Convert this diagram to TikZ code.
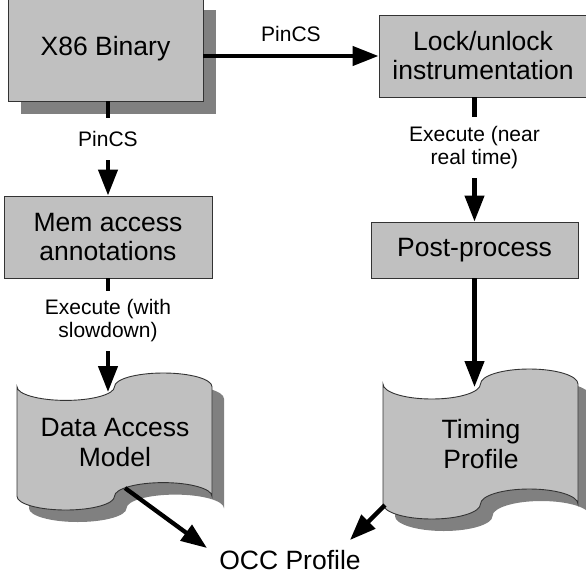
\documentclass[tikz,border=0pt]{standalone}
\usepackage{fontspec}
\setmainfont{Liberation Sans}
\usetikzlibrary{arrows.meta,shadows}
\definecolor{boxfill}{HTML}{C0C0C0}
\definecolor{shadowc}{HTML}{808080}
\definecolor{edgec}{HTML}{333333}
% tape (punched tape) shape: #1 style, #2 x, #3 y (top-left, pixel coords), #4 w, #5 h
\newcommand\tapeshape[5]{%
  \pgfmathsetmacro\tpx{#2}\pgfmathsetmacro\tpy{#3}%
  \pgfmathsetmacro\tpa{#4/4}\pgfmathsetmacro\tpb{#5/10}%
  \pgfmathsetmacro\tpka{0.5523*\tpa}\pgfmathsetmacro\tpkb{0.5523*\tpb}%
  \path[#1] (\tpx,{\tpy+\tpb})
    .. controls (\tpx,{\tpy+\tpb+\tpkb}) and ({\tpx+\tpa-\tpka},{\tpy+2*\tpb}) .. ({\tpx+\tpa},{\tpy+2*\tpb})
    .. controls ({\tpx+\tpa+\tpka},{\tpy+2*\tpb}) and ({\tpx+2*\tpa},{\tpy+\tpb+\tpkb}) .. ({\tpx+2*\tpa},{\tpy+\tpb})
    .. controls ({\tpx+2*\tpa},{\tpy+\tpb-\tpkb}) and ({\tpx+3*\tpa-\tpka},\tpy) .. ({\tpx+3*\tpa},\tpy)
    .. controls ({\tpx+3*\tpa+\tpka},\tpy) and ({\tpx+4*\tpa},{\tpy+\tpb-\tpkb}) .. ({\tpx+4*\tpa},{\tpy+\tpb})
    -- ({\tpx+4*\tpa},{\tpy+9*\tpb})
    .. controls ({\tpx+4*\tpa},{\tpy+9*\tpb-\tpkb}) and ({\tpx+3*\tpa+\tpka},{\tpy+8*\tpb}) .. ({\tpx+3*\tpa},{\tpy+8*\tpb})
    .. controls ({\tpx+3*\tpa-\tpka},{\tpy+8*\tpb}) and ({\tpx+2*\tpa},{\tpy+9*\tpb-\tpkb}) .. ({\tpx+2*\tpa},{\tpy+9*\tpb})
    .. controls ({\tpx+2*\tpa},{\tpy+9*\tpb+\tpkb}) and ({\tpx+\tpa+\tpka},{\tpy+10*\tpb}) .. ({\tpx+\tpa},{\tpy+10*\tpb})
    .. controls ({\tpx+\tpa-\tpka},{\tpy+10*\tpb}) and (\tpx,{\tpy+9*\tpb+\tpkb}) .. (\tpx,{\tpy+9*\tpb})
    -- cycle;}
\begin{document}
\begin{tikzpicture}[x=1pt,y=-1pt,
  box/.style={draw=edgec, line width=0.9pt, fill=boxfill, align=center, inner sep=0pt,
    font=\fontsize{26.5}{29}\selectfont},
  plain/.style={align=center, inner sep=0pt, font=\fontsize{26.5}{30}\selectfont},
  arr/.style={line width=4.3pt, -{Triangle[length=26pt,width=19pt]}},
  lbl/.style={fill=white, inner xsep=2pt, inner ysep=0pt, align=center,
    font=\fontsize{21}{23.5}\selectfont},
  tapebody/.style={draw=edgec, line width=0.9pt, fill=boxfill},
  tapeshadow/.style={fill=shadowc}]
\useasboundingbox (0,0) rectangle (586,581);

% tapes
\tapeshape{tapeshadow, shift={(12,12)}}{17}{373}{195}{137}
\tapeshape{tapebody}{17}{373}{195}{137}
\tapeshape{tapeshadow, shift={(12,12)}}{383}{369}{195}{150}
\tapeshape{tapebody}{383}{369}{195}{150}

% boxes
\node[box, minimum width=195pt, minimum height=104pt,
  drop shadow={shadow xshift=13pt, shadow yshift=-13pt, opacity=1, fill=shadowc}]
  (x86) at (105.5,49) {X86 Binary};
\node[box, minimum width=208pt, minimum height=82pt] (lock) at (483,56) {Lock/unlock\\instrumentation};
\node[box, minimum width=208pt, minimum height=82pt] (mem) at (108,237) {Mem access\\annotations};
\node[box, minimum width=207pt, minimum height=56pt] (post) at (474.5,250) {Post-process};

% tape texts
\node[plain] (dam) at (115,443) {Data Access\\Model};
\node[plain] (tp) at (481,444) {Timing\\Profile};
\node[plain] (occ) at (290,560) {OCC Profile};

% connector end points on tapes / near OCC text
\coordinate (damtop) at (108,392);
\coordinate (dambot) at (125,488);
\coordinate (tptop) at (474.5,387);
\coordinate (tpbot) at (385,505);
\coordinate (occa) at (207,548);
\coordinate (occb) at (350,540);

% connectors
\draw[arr] (x86.east |- lock.west) -- node[above=12pt, lbl, fill=none] {PinCS} (lock.west);
\draw[arr] (mem.north |- x86.south) -- node[lbl, minimum height=42pt, pos=0.4] {PinCS} (mem.north);
\draw[arr] (post.north |- lock.south) -- node[lbl, minimum height=61pt, pos=0.404] {Execute (near\\real time)} (post.north);
\draw[arr] (mem.south) -- node[lbl, minimum height=60pt, pos=0.372] {Execute (with\\slowdown)} (damtop);
\draw[arr] (post.south) -- (tptop);
\draw[arr] (dambot) -- (occa);
\draw[arr] (tpbot) -- (occb);
\end{tikzpicture}
\end{document}
